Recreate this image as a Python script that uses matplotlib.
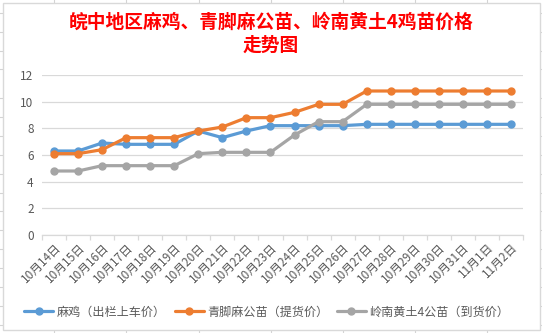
import numpy as np
import matplotlib
matplotlib.use("Agg")
import matplotlib.pyplot as plt
from matplotlib.lines import Line2D
from matplotlib.patches import Rectangle

plt.rcParams['font.family'] = ['Noto Sans CJK SC', 'DejaVu Sans']

## data
dates = ['10月14日', '10月15日', '10月16日', '10月17日', '10月18日', '10月19日',
         '10月20日', '10月21日', '10月22日', '10月23日', '10月24日', '10月25日',
         '10月26日', '10月27日', '10月28日', '10月29日', '10月30日', '10月31日',
         '11月1日', '11月2日']
maji = [6.3, 6.3, 6.9, 6.8, 6.8, 6.8, 7.8, 7.3, 7.8, 8.2,
        8.2, 8.2, 8.2, 8.3, 8.3, 8.3, 8.3, 8.3, 8.3, 8.3]
qingjiao = [6.1, 6.1, 6.4, 7.3, 7.3, 7.3, 7.8, 8.1, 8.8, 8.8,
            9.2, 9.8, 9.8, 10.8, 10.8, 10.8, 10.8, 10.8, 10.8, 10.8]
lingnan = [4.8, 4.8, 5.2, 5.2, 5.2, 5.2, 6.1, 6.2, 6.2, 6.2,
           7.5, 8.5, 8.5, 9.8, 9.8, 9.8, 9.8, 9.8, 9.8, 9.8]
names = ['麻鸡（出栏上车价）', '青脚麻公苗（提货价）', '岭南黄土4公苗（到货价）']
colors = ['#5B9BD5', '#ED7D31', '#A5A5A5']

W, H = 542, 333
fig = plt.figure(figsize=(W/100, H/100), dpi=100)

def px(x, y):
    return x/W, 1 - y/H

## faint spreadsheet cell lines around the chart box
grid_c = '#d4d4d4'
rows = [12.7, 31.7, 50.7, 69.3, 97.7, 116.7, 135.7, 154.7, 173.7, 192.7,
        211.3, 230.3, 249.3, 268.3, 287.3, 306.3, 325]
cols = [54.3, 126.3, 199, 270.6, 342.6, 415.2, 487.2]
for r in rows:
    for x0, x1 in [(0, 2.5), (539.5, W)]:
        (a, b), (c, d) = px(x0, r), px(x1, r)
        fig.add_artist(Line2D([a, c], [b, d], color=grid_c, lw=0.8, zorder=-10))
for cc in cols:
    for y0, y1 in [(0, 2.5), (329.5, H)]:
        (a, b), (c, d) = px(cc, y0), px(cc, y1)
        fig.add_artist(Line2D([a, c], [b, d], color=grid_c, lw=0.8, zorder=-10))
x0, y0 = px(2.5, 329.5)
fig.add_artist(Rectangle((x0, y0), 537/W, 327/H, transform=fig.transFigure,
                         facecolor='white', edgecolor='#d9d9d9', lw=1.0, zorder=-5))

ax = fig.add_axes([42/W, 1 - 235/H, 481/W, 160/H])
ax.patch.set_alpha(0)
x = np.arange(len(dates))
for y, name, col in zip([maji, qingjiao, lingnan], names, colors):
    ax.plot(x, y, color=col, lw=2.3, marker='o', markersize=5, label=name,
            solid_capstyle='round')

ax.set_xlim(-0.5, len(dates) - 0.5)
ax.set_ylim(0, 12)
ax.set_yticks(np.arange(0, 13, 2))
ax.grid(axis='y', color='#d9d9d9', lw=0.9)
ax.set_axisbelow(True)
for s in ['left', 'right', 'top']:
    ax.spines[s].set_visible(False)
ax.spines['bottom'].set_color('#d9d9d9')
ax.spines['bottom'].set_linewidth(0.9)

ax.set_xticks(x)
ax.set_xticklabels(dates, rotation=45, ha='right', va='top',
                   rotation_mode='anchor', fontsize=8.5, color='#595959')
ax.set_xticks(np.arange(-0.5, len(dates), 1), minor=True)
ax.tick_params(axis='x', which='major', length=0, pad=4)
ax.tick_params(axis='x', which='minor', length=3.5, color='#d9d9d9', width=0.9)
ax.tick_params(axis='y', length=0, labelsize=8.5, labelcolor='#595959', pad=6)

fig.legend(loc='center', bbox_to_anchor=(267/W, 1 - 312/H), ncol=3,
           frameon=False, fontsize=8.7, handlelength=2.4, columnspacing=0.7,
           handletextpad=0.3, labelcolor='#595959')

fig.text(271/W, 1 - 22.7/H, '皖中地区麻鸡、青脚麻公苗、岭南黄土4鸡苗价格',
         ha='center', va='center', color='#ff0000', fontsize=13.5, fontweight='bold')
fig.text(271/W, 1 - 45/H, '走势图',
         ha='center', va='center', color='#ff0000', fontsize=13.5, fontweight='bold')

fig.savefig('out.png', dpi=100)
